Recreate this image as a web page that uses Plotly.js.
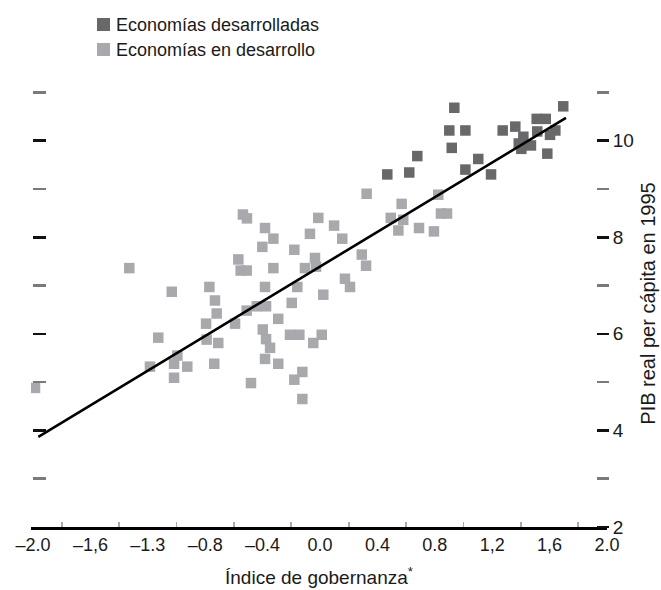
<!DOCTYPE html>
<html>
<head>
<meta charset="utf-8">
<script src="https://cdn.plot.ly/plotly-3.0.1.min.js"></script>
<style>html,body{margin:0;padding:0;background:#fff;}#chart{width:661px;height:590px;}</style>
</head>
<body>
<div id="chart"></div>
<script>
// ---- data ----
const seriesNames = ['Economías desarrolladas', 'Economías en desarrollo'];

const devX = [0.936, 0.901, 1.013, 1.273, 1.361, 1.417, 1.510, 1.573, 1.514, 1.640, 1.603, 1.695,
              1.385, 1.470, 1.584, 0.918, 0.678, 1.103, 0.469, 0.622, 1.013, 1.192, 1.403];
const devY = [10.68, 10.21, 10.21, 10.21, 10.29, 10.08, 10.45, 10.45, 10.19, 10.21, 10.12, 10.71,
              9.94, 9.90, 9.73, 9.85, 9.68, 9.62, 9.30, 9.34, 9.40, 9.30, 9.83];

const lessX = [-1.329, -1.033, -0.771, -0.732, -0.720, -0.794, -1.127, -0.790, -0.709, -0.994, -1.185,
               -1.017, -0.925, -0.737, -1.017, -1.986, 0.325, -0.537, -0.509, -0.383, -0.325, -0.402,
               -0.012, 0.098, -0.070, 0.155, -0.179, 0.291, 0.321, -0.569, -0.553, -0.511, -0.325,
               -0.035, -0.105, -0.028, 0.174, 0.209, -0.383, -0.158, 0.023, -0.197, -0.511, -0.441,
               -0.376, -0.592, -0.291, -0.399, -0.376, -0.348, -0.209, -0.144, 0.012, -0.047, -0.383,
               -0.291, -0.481, -0.123, -0.179, -0.123, 0.569, 0.493, 0.580, 0.546, 0.690, 0.824,
               0.843, 0.885, 0.794];
const lessY = [7.36, 6.87, 6.97, 6.69, 6.42, 6.21, 5.92, 5.88, 5.81, 5.55, 5.32,
               5.38, 5.32, 5.38, 5.09, 4.88, 8.90, 8.47, 8.39, 8.19, 7.97, 7.80,
               8.40, 8.24, 8.07, 7.97, 7.74, 7.64, 7.41, 7.54, 7.31, 7.31, 7.36,
               7.57, 7.36, 7.39, 7.14, 6.97, 6.97, 6.97, 6.81, 6.64, 6.48, 6.57,
               6.57, 6.21, 6.31, 6.09, 5.89, 5.71, 5.98, 5.98, 5.98, 5.81, 5.48,
               5.38, 4.98, 5.21, 5.05, 4.65, 8.69, 8.40, 8.36, 8.14, 8.19, 8.88,
               8.49, 8.49, 8.12];

const fitX = [-1.963, 1.714];
const fitY = [3.865, 10.47];

const xTickVals = [-2, -1.6, -1.2, -0.8, -0.4, 0, 0.4, 0.8, 1.2, 1.6, 2];
const xTickText = ['–2.0', '–1,6', '–1.3', '–0.8', '–0.4', '0.0', '0.4', '0.8', '1,2', '1,6', '2.0'];
const xMinorTicks = [-1.8, -1.4, -1.0, -0.6, -0.2, 0.2, 0.6, 1.0, 1.4, 1.8];
const yTickVals = [2, 4, 6, 8, 10];
const yTickText = ['2', '4', '6', '8', '10'];
const yMinorTicks = [3, 5, 7, 9, 11];

const xTitle = 'Índice de gobernanza<sup>*</sup>';
const yTitle = 'PIB real per cápita en 1995';

// ---- styles ----
const DARK = '#68686b';
const LIGHT = '#a8a9ad';
const FONT = 'Liberation Sans, Arial, sans-serif';
const TXT = '#1a1a1a';

const traces = [
  {x: lessX, y: lessY, name: seriesNames[1], type: 'scatter', mode: 'markers',
   marker: {symbol: 'square', size: 10.5, color: LIGHT}, showlegend: false, hoverinfo: 'x+y'},
  {x: devX, y: devY, name: seriesNames[0], type: 'scatter', mode: 'markers',
   marker: {symbol: 'square', size: 10.5, color: DARK}, showlegend: false, hoverinfo: 'x+y'},
  {x: fitX, y: fitY, type: 'scatter', mode: 'lines', line: {color: '#000', width: 2.6},
   showlegend: false, hoverinfo: 'skip'},
  {x: [], y: [], yaxis: 'y2', type: 'scatter', mode: 'markers', showlegend: false, hoverinfo: 'skip'}
];

const yRange = [2, 11.255];
const PL = 31, PR = 607, PT = 80, PB = 527;
const px2x = p => (p - PL) / (PR - PL);
const px2y = p => (PB - p) / (PB - PT);

function legendSquare(cx, cy, color) {
  return {type: 'rect', xref: 'paper', yref: 'paper', xsizemode: 'pixel', ysizemode: 'pixel',
          xanchor: px2x(cx), yanchor: px2y(cy), x0: -6.5, x1: 6.5, y0: -6.5, y1: 6.5,
          fillcolor: color, line: {width: 0}, layer: 'above'};
}

const layout = {
  width: 661, height: 590,
  margin: {l: PL, r: 661 - PR, t: PT, b: 590 - PB},
  paper_bgcolor: '#fff', plot_bgcolor: '#fff',
  showlegend: false,
  xaxis: {
    range: [-2.014, 2.0], showgrid: false, zeroline: false,
    showline: true, linecolor: '#000', linewidth: 2.5,
    tickmode: 'array', tickvals: xTickVals, ticktext: xTickText, ticks: '',
    tickfont: {family: FONT, size: 18, color: TXT},
    minor: {tickmode: 'array', tickvals: xMinorTicks, ticks: 'inside', ticklen: 5, tickwidth: 1.6, tickcolor: '#aaaaaa'},
    title: {text: xTitle, font: {family: FONT, size: 19, color: TXT}, standoff: 17},
    automargin: false, fixedrange: true
  },
  yaxis: {
    range: yRange, side: 'right', anchor: 'free', position: px2x(596),
    showgrid: false, zeroline: false, showline: false,
    tickmode: 'array', tickvals: yTickVals, ticktext: yTickText,
    ticks: 'outside', ticklen: 12, tickwidth: 2.6, tickcolor: '#111',
    minor: {tickmode: 'array', tickvals: yMinorTicks, ticks: 'outside', ticklen: 12, tickwidth: 2.6, tickcolor: '#7a7a7a'},
    tickfont: {family: FONT, size: 19, color: TXT},
    title: {text: yTitle, font: {family: FONT, size: 20, color: TXT}, standoff: 8},
    automargin: false, fixedrange: true
  },
  yaxis2: {
    range: yRange, overlaying: 'y', side: 'left', anchor: 'free', position: px2x(46),
    showgrid: false, zeroline: false, showline: false, showticklabels: false,
    tickmode: 'array', tickvals: [4, 6, 8, 10],
    ticks: 'outside', ticklen: 13, tickwidth: 2.6, tickcolor: '#111',
    minor: {tickmode: 'array', tickvals: yMinorTicks, ticks: 'outside', ticklen: 13, tickwidth: 2.6, tickcolor: '#7a7a7a'},
    automargin: false, fixedrange: true
  },
  shapes: [legendSquare(103.5, 24.5, DARK), legendSquare(103.5, 49.5, LIGHT)],
  annotations: [
    {xref: 'paper', yref: 'paper', x: px2x(114), y: px2y(25), text: seriesNames[0], showarrow: false,
     xanchor: 'left', yanchor: 'middle', font: {family: FONT, size: 18, color: TXT}},
    {xref: 'paper', yref: 'paper', x: px2x(114), y: px2y(50), text: seriesNames[1], showarrow: false,
     xanchor: 'left', yanchor: 'middle', font: {family: FONT, size: 18, color: TXT}}
  ]
};

Plotly.newPlot('chart', traces, layout, {displayModeBar: false, staticPlot: true});
</script>
</body>
</html>
